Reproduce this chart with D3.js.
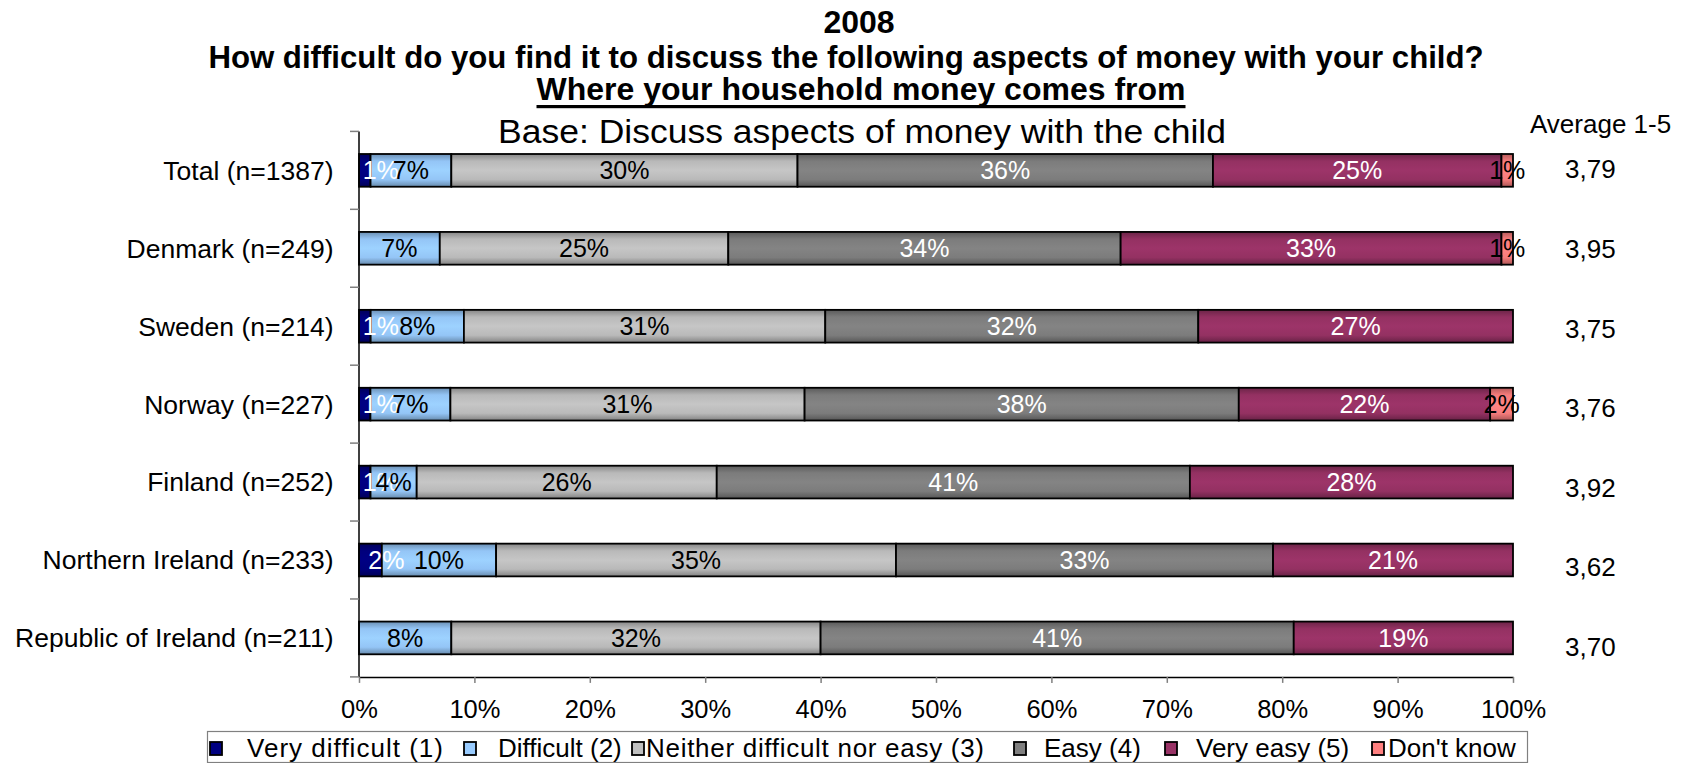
<!DOCTYPE html>
<html>
<head>
<meta charset="utf-8">
<script src="https://cdn.jsdelivr.net/npm/d3@7"></script>
<style>
  html, body { margin: 0; padding: 0; background: #fff; }
  svg text { font-family: "Liberation Sans", Arial, Helvetica, sans-serif; }
</style>
</head>
<body>
<svg id="chart" width="1684" height="763"></svg>
<script>
// ---- data -----------------------------------------------------------
const categories = [
  "Total (n=1387)",
  "Denmark (n=249)",
  "Sweden (n=214)",
  "Norway (n=227)",
  "Finland (n=252)",
  "Northern Ireland (n=233)",
  "Republic of Ireland (n=211)"
];
const seriesNames = [
  "Very difficult (1)",
  "Difficult (2)",
  "Neither difficult nor easy (3)",
  "Easy (4)",
  "Very easy (5)",
  "Don't know"
];
const veryDifficult = [1, 0, 1, 1, 1, 2, 0];
const difficult     = [7, 7, 8, 7, 4, 10, 8];
const neither       = [30, 25, 31, 31, 26, 35, 32];
const easy          = [36, 34, 32, 38, 41, 33, 41];
const veryEasy      = [25, 33, 27, 22, 28, 21, 19];
const dontKnow      = [1, 1, 0, 2, 0, 0, 0];
const averages      = [3.79, 3.95, 3.75, 3.76, 3.92, 3.62, 3.70];
const xTicks        = [0, 0.1, 0.2, 0.3, 0.4, 0.5, 0.6, 0.7, 0.8, 0.9, 1];

const titleLines = [
  "2008",
  "How difficult do you find it to discuss the following aspects of money with your child?",
  "Where your household money comes from",
  "Base: Discuss aspects of money with the child"
];
const averageHeader = "Average 1-5";

// ---- styling --------------------------------------------------------
const colors      = ["#000080", "#99CCFF", "#C0C0C0", "#808080", "#993366", "#FF8080"];
const labelColors = ["#ffffff", "#000000", "#000000", "#ffffff", "#ffffff", "#000000"];
const FONT = '"Liberation Sans", Arial, Helvetica, sans-serif';

const svg = d3.select("#chart");
const plot = { left: 359, right: 1513, top: 131.4, bottom: 676.9 };

// ---- scales ---------------------------------------------------------
const keys = ["vd", "d", "n", "e", "ve", "dk"];
const columns = [veryDifficult, difficult, neither, easy, veryEasy, dontKnow];
const rows = categories.map((c, i) => {
  const r = { cat: c };
  keys.forEach((k, j) => { r[k] = columns[j][i]; });
  return r;
});

const x = d3.scaleLinear().domain([0, 1]).range([plot.left, plot.right]);
const y = d3.scaleBand()
  .domain(categories)
  .range([plot.top, plot.bottom])
  .paddingInner(0.58)
  .paddingOuter(0.29);
const yAvg = d3.scalePoint().domain(categories).range([178.3, 656]);

// 100% stacked: each row is normalised to its own total
const layers = d3.stack().keys(keys).offset(d3.stackOffsetExpand)(rows);

// ---- shaded fills ---------------------------------------------------
const defs = svg.append("defs");
colors.forEach((c, i) => {
  const g = defs.append("linearGradient")
    .attr("id", "shade" + i)
    .attr("x1", 0).attr("y1", 0).attr("x2", 0).attr("y2", 1);
  const base = d3.color(c);
  g.append("stop").attr("offset", "0%").attr("stop-color", base.darker(1.0));
  g.append("stop").attr("offset", "22%").attr("stop-color", base.darker(0.1));
  g.append("stop").attr("offset", "50%").attr("stop-color", base.brighter(0.08));
  g.append("stop").attr("offset", "78%").attr("stop-color", base.darker(0.1));
  g.append("stop").attr("offset", "100%").attr("stop-color", base.darker(1.1));
});

// ---- title ----------------------------------------------------------
const titleG = svg.append("g").attr("font-family", FONT).attr("text-anchor", "middle");
titleG.append("text").attr("x", 859).attr("y", 32.5)
  .attr("font-size", 32).attr("font-weight", "bold").text(titleLines[0]);
titleG.append("text").attr("x", 846).attr("y", 67.5)
  .attr("font-size", 31.2).attr("font-weight", "bold").text(titleLines[1]);
const sub = titleG.append("text").attr("x", 861).attr("y", 100)
  .attr("font-size", 32).attr("font-weight", "bold").text(titleLines[2]);
const subLen = sub.node().getComputedTextLength();
titleG.append("rect")
  .attr("x", 861 - subLen / 2).attr("y", 105)
  .attr("width", subLen).attr("height", 3.2).attr("fill", "#000");
titleG.append("text").attr("x", 862).attr("y", 142.5)
  .attr("font-size", 34)
  .attr("textLength", 728).attr("lengthAdjust", "spacingAndGlyphs")
  .text(titleLines[3]);

// ---- bars -----------------------------------------------------------
const barsG = svg.append("g");
layers.forEach((layer, i) => {
  barsG.selectAll(null)
    .data(layer.filter(d => d.data[layer.key] > 0))
    .join("rect")
    .attr("x", d => x(d[0]))
    .attr("y", d => y(d.data.cat))
    .attr("width", d => x(d[1]) - x(d[0]))
    .attr("height", y.bandwidth())
    .attr("fill", "url(#shade" + i + ")")
    .attr("stroke", "#000")
    .attr("stroke-width", 1.8);
});

// ---- value labels ---------------------------------------------------
const labG = svg.append("g").attr("font-family", FONT).attr("font-size", 25)
  .attr("text-anchor", "middle");
layers.forEach((layer, i) => {
  labG.selectAll(null)
    .data(layer.filter(d => d.data[layer.key] > 0))
    .join("text")
    .attr("x", d => (x(d[0]) + x(d[1])) / 2 + (i === 0 ? 16 : 0))
    .attr("y", d => y(d.data.cat) + y.bandwidth() / 2 + 9)
    .attr("fill", labelColors[i])
    .text(d => d.data[layer.key] + "%");
});

// ---- axes -----------------------------------------------------------
const axisG = svg.append("g");
// left axis line and category-boundary ticks
const gap = (y.step() - y.bandwidth()) / 2;
const bounds = categories.map(c => y(c) - gap).concat([y(categories[categories.length - 1]) + y.bandwidth() + gap]);
axisG.append("line")
  .attr("x1", plot.left).attr("x2", plot.left)
  .attr("y1", bounds[0]).attr("y2", bounds[bounds.length - 1])
  .attr("stroke", "#000").attr("stroke-width", 1.5);
axisG.selectAll(null).data(bounds).join("line")
  .attr("x1", plot.left - 9).attr("x2", plot.left)
  .attr("y1", d => d).attr("y2", d => d)
  .attr("stroke", "#808080").attr("stroke-width", 1.5);

// bottom percentage axis
const xAxis = d3.axisBottom(x)
  .tickValues(xTicks)
  .tickFormat(d3.format(".0%"))
  .tickSize(6)
  .tickSizeOuter(0)
  .tickPadding(17);
const xAxisG = svg.append("g")
  .attr("transform", `translate(0,${bounds[bounds.length - 1]})`)
  .call(xAxis);
xAxisG.select(".domain").attr("stroke", "#000").attr("stroke-width", 1.5);
xAxisG.selectAll(".tick line").attr("stroke", "#808080").attr("stroke-width", 1.5);
xAxisG.selectAll(".tick text")
  .attr("font-family", FONT).attr("font-size", 25.5).attr("fill", "#000");

// category labels
svg.append("g").attr("font-family", FONT).attr("font-size", 26.5).attr("text-anchor", "end")
  .selectAll("text").data(categories).join("text")
  .attr("x", 333.5)
  .attr("y", d => y(d) + y.bandwidth() / 2 + 9.4)
  .attr("fill", "#000")
  .text(d => d);

// ---- averages column -------------------------------------------------
const avgG = svg.append("g").attr("font-family", FONT).attr("font-size", 26).attr("fill", "#000");
avgG.append("text").attr("x", 1530).attr("y", 133.3).text(averageHeader);
const fmtAvg = v => d3.format(".2f")(v).replace(".", ",");
avgG.selectAll(null).data(categories).join("text")
  .attr("x", 1565)
  .attr("y", d => yAvg(d))
  .text((d, i) => fmtAvg(averages[i]));

// ---- legend -----------------------------------------------------------
// marker x, text x and (optional) stretched text width for each entry
const legendLayout = [
  { mx: 209, tx: 247, len: 196 },
  { mx: 463, tx: 498 },
  { mx: 631, tx: 646, len: 338 },
  { mx: 1013, tx: 1044 },
  { mx: 1164, tx: 1196 },
  { mx: 1371, tx: 1388 }
];
const legG = svg.append("g").attr("font-family", FONT).attr("font-size", 26);
legG.append("rect")
  .attr("x", 207.5).attr("y", 731.5).attr("width", 1320).attr("height", 31)
  .attr("fill", "#fff").attr("stroke", "#808080").attr("stroke-width", 1.2);
seriesNames.forEach((name, i) => {
  const L = legendLayout[i];
  legG.append("rect")
    .attr("x", L.mx + 1).attr("y", 742).attr("width", 12).attr("height", 13)
    .attr("fill", colors[i]).attr("stroke", "#000").attr("stroke-width", 1.8);
  const t = legG.append("text").attr("x", L.tx).attr("y", 757).attr("fill", "#000").text(name);
  if (L.len) t.attr("textLength", L.len).attr("lengthAdjust", "spacing");
});
</script>
</body>
</html>
